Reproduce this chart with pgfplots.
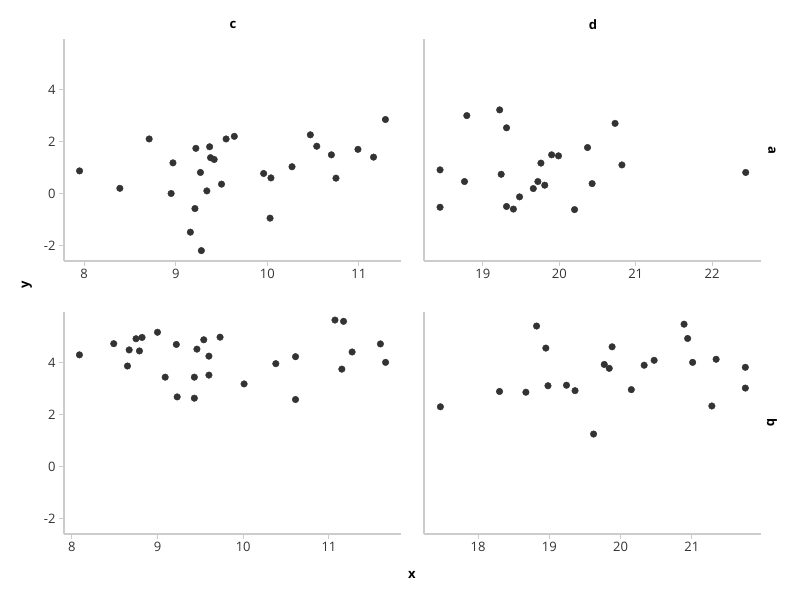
\documentclass[border=0pt]{standalone}
\usepackage{pgfplots}
\pgfplotsset{compat=1.18}
\usepackage{fontspec}
\setmainfont{Open Sans}
\definecolor{pt}{HTML}{333333}
\definecolor{ax}{HTML}{CCCCCC}
\definecolor{tk}{HTML}{333333}
\pgfplotsset{
  facet/.style={
    scale only axis, width=337pt, height=222pt,
    axis lines*=left, axis line style={draw=ax, line width=1.2pt, -},
    tick align=outside, major tick length=5pt,
    tick style={draw=ax, line width=1pt},
    ymin=-2.6, ymax=5.95,
    ytick={-2,0,2,4},
    tick label style={font=\fontsize{13}{13}\selectfont, text=tk},
    /pgf/number format/assume math mode=true,
    anchor=south west,
    clip=false,
  },
  pts/.style={only marks, mark=*, mark size=3.3pt, mark options={fill=pt, draw=pt}},
}
\begin{document}
\begin{tikzpicture}[x=1pt,y=1pt]
\path[use as bounding box] (0,0) rectangle (800,600);
% top-left: c, a
\begin{axis}[facet, at={(64pt,339pt)}, xmin=7.78, xmax=11.46, xtick={8,9,10,11}]
\addplot[pts] coordinates {
(7.95,0.87)(8.39,0.20)(8.71,2.10)(8.97,1.18)(8.95,0.0)(9.22,1.74)(9.37,1.80)
(9.38,1.38)(9.42,1.31)(9.27,0.81)(9.34,0.10)(9.50,0.36)(9.21,-0.58)(9.16,-1.49)
(9.28,-2.20)(9.55,2.10)(9.64,2.20)(9.96,0.77)(10.04,0.60)(10.03,-0.95)(10.27,1.03)
(10.47,2.26)(10.54,1.82)(10.70,1.49)(10.75,0.59)(10.99,1.70)(11.16,1.40)(11.29,2.85)
};
\end{axis}
% top-right: d, a
\begin{axis}[facet, at={(424pt,339pt)}, xmin=18.23, xmax=22.64, xtick={19,20,21,22}, ytick=\empty]
\addplot[pts] coordinates {
(18.44,0.91)(18.44,-0.53)(18.76,0.46)(18.79,3.00)(19.22,3.22)(19.31,2.53)(19.24,0.74)
(19.31,-0.50)(19.40,-0.60)(19.48,-0.13)(19.66,0.19)(19.72,0.46)(19.81,0.32)(19.76,1.17)
(19.90,1.49)(19.99,1.45)(20.20,-0.62)(20.37,1.77)(20.43,0.38)(20.73,2.70)(20.82,1.10)
(22.44,0.81)
};
\end{axis}
% bottom-left: c, b
\begin{axis}[facet, at={(64pt,66pt)}, xmin=7.91, xmax=11.84, xtick={8,9,10,11}]
\addplot[pts] coordinates {
(8.09,4.30)(8.49,4.73)(8.67,4.49)(8.65,3.87)(8.75,4.92)(8.82,4.97)(8.79,4.45)
(9.00,5.17)(9.09,3.44)(9.22,4.70)(9.23,2.68)(9.43,3.44)(9.43,2.63)(9.46,4.52)
(9.54,4.88)(9.60,4.25)(9.60,3.52)(9.73,4.98)(10.01,3.18)(10.38,3.96)(10.61,4.23)
(10.61,2.58)(11.07,5.64)(11.17,5.59)(11.15,3.75)(11.27,4.41)(11.60,4.72)(11.66,4.01)
};
\end{axis}
% bottom-right: d, b
\begin{axis}[facet, at={(424pt,66pt)}, xmin=17.24, xmax=21.97, xtick={18,19,20,21}, ytick=\empty]
\addplot[pts] coordinates {
(17.47,2.30)(18.30,2.89)(18.67,2.86)(18.82,5.41)(18.95,4.56)(18.98,3.11)(19.24,3.13)
(19.36,2.92)(19.62,1.25)(19.77,3.93)(19.84,3.78)(19.88,4.61)(20.15,2.96)(20.33,3.90)
(20.47,4.09)(20.89,5.48)(20.94,4.93)(21.01,4.01)(21.28,2.33)(21.34,4.13)(21.75,3.82)
(21.75,3.02)
};
\end{axis}
\begin{scope}[every node/.style={font=\fontsize{13}{13}\selectfont\bfseries, text=black}]
\node at (233,575) {c};
\node at (593,575) {d};
\node[rotate=-90] at (772,450) {a};
\node[rotate=-90] at (772,177) {b};
\node[rotate=90] at (27,315) {y};
\node at (412,25) {x};
\end{scope}
\end{tikzpicture}
\end{document}
